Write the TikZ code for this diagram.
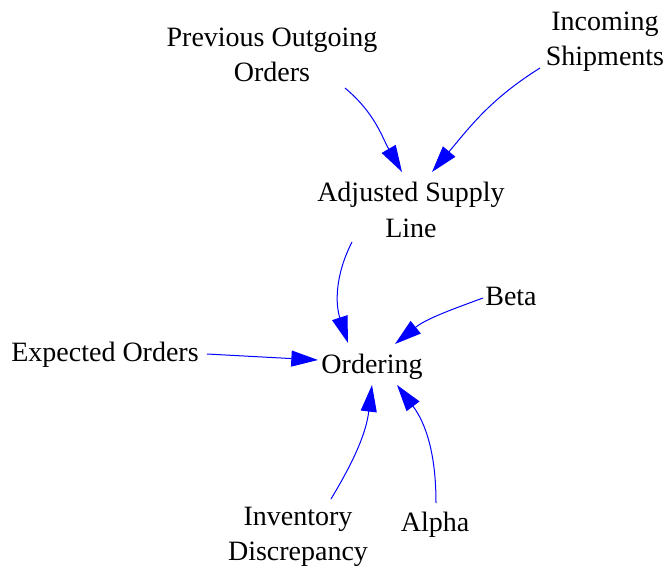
\documentclass[tikz,border=0pt]{standalone}
\usepackage{fontspec}
\setmainfont{Liberation Serif}
\usetikzlibrary{arrows.meta}
\begin{document}
\begin{tikzpicture}[x=0.75pt,y=-0.75pt,
  lbl/.style={align=center,inner sep=0pt,font=\fontsize{21}{26.5}\selectfont},
  link/.style={draw=blue,line width=0.75pt,-{Triangle[length=20pt,width=12pt]}}]
\useasboundingbox (0,0) rectangle (663,569);
\node[lbl] (prev) at (272,55) {Previous Outgoing\\Orders};
\node[lbl] (inc) at (605,42) {Incoming\\Shipments};
\node[lbl] (adj) at (411,210) {Adjusted Supply\\Line};
\node[lbl] (beta) at (511,296) {Beta};
\node[lbl] (exp) at (105,355) {Expected Orders};
\node[lbl] (ord) at (372,367) {Ordering};
\node[lbl] (inv) at (298,537) {Inventory\\Discrepancy};
\node[lbl] (alpha) at (435,525) {Alpha};
\draw[link] ([shift={(73,33)}]prev.center) to[out=-40,in=120] ([shift={(-9,-38)}]adj.center);
\draw[link] ([shift={(-65,26)}]inc.center) to[out=-148,in=50] ([shift={(21,-38)}]adj.center);
\draw[link] ([shift={(-59,32)}]adj.center) to[out=243,in=108] ([shift={(-24,-24)}]ord.center);
\draw[link] ([shift={(-28,2)}]beta.center) to[out=200,in=39] ([shift={(23,-23)}]ord.center);
\draw[link] ([shift={(102,-1)}]exp.center) -- ([shift={(-54,-7)}]ord.center);
\draw[link] ([shift={(33,-38)}]inv.center) to[out=59,in=263] ([shift={(0,18)}]ord.center);
\draw[link] ([shift={(1,-22)}]alpha.center) to[out=90,in=-53] ([shift={(25,18)}]ord.center);
\end{tikzpicture}
\end{document}
